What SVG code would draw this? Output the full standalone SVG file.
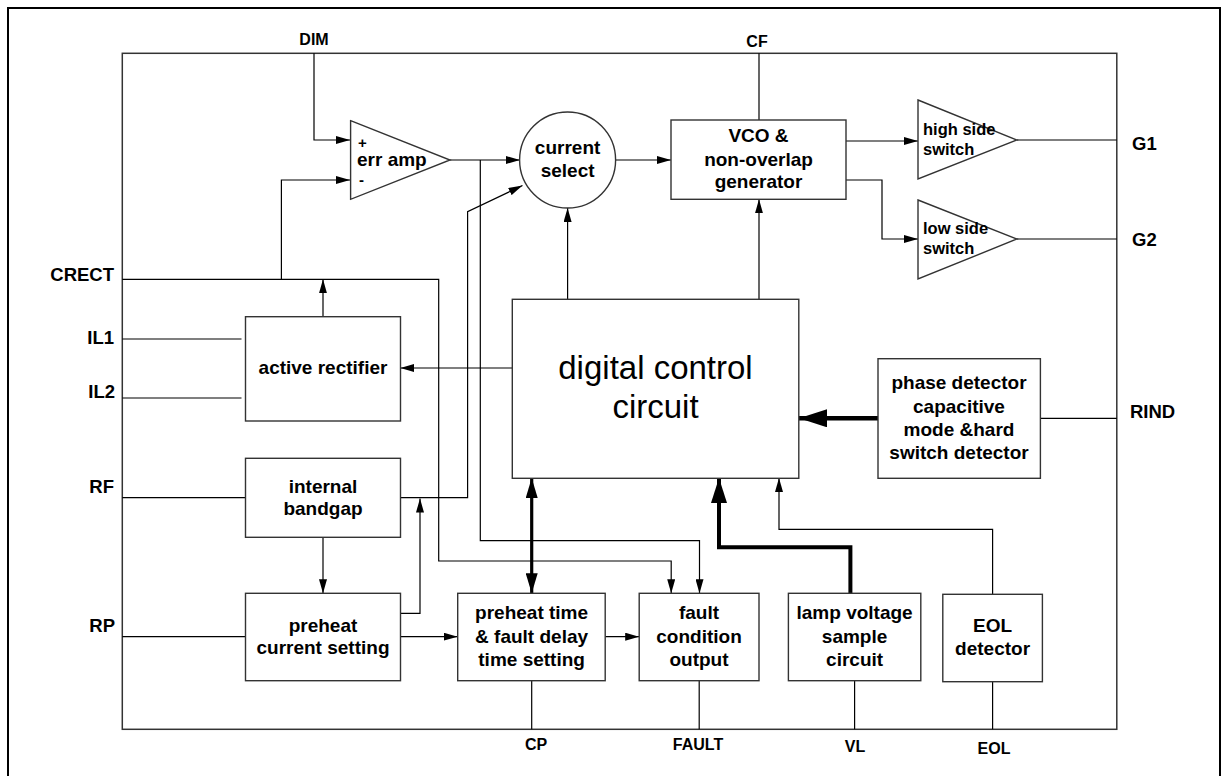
<svg xmlns="http://www.w3.org/2000/svg" width="1227" height="776" viewBox="0 0 1227 776">
<style>
.bx{fill:#fff;stroke:#333;stroke-width:1.4}
.ln{fill:none;stroke:#000;stroke-width:1.2}
.t{font-family:"Liberation Sans",Arial,sans-serif;font-weight:bold;font-size:19px;fill:#000;text-anchor:middle}
.l{font-family:"Liberation Sans",Arial,sans-serif;font-weight:bold;font-size:19px;fill:#000;text-anchor:start}
.pm{font-family:"Liberation Sans",Arial,sans-serif;font-weight:bold;font-size:15px;fill:#000;text-anchor:start}
.p{font-family:"Liberation Sans",Arial,sans-serif;font-weight:bold;font-size:18.5px;fill:#000}
.pe{font-family:"Liberation Sans",Arial,sans-serif;font-weight:bold;font-size:18.5px;fill:#000;text-anchor:end}
.q{font-family:"Liberation Sans",Arial,sans-serif;font-weight:bold;font-size:16px;fill:#000;text-anchor:middle}
.s{font-family:"Liberation Sans",Arial,sans-serif;font-weight:bold;font-size:16.5px;fill:#000}
.big{font-family:"Liberation Sans",Arial,sans-serif;font-size:33px;fill:#000;text-anchor:middle}
</style>
<defs>
<marker id="a" markerUnits="userSpaceOnUse" viewBox="0 0 14 8" markerWidth="14" markerHeight="8" refX="14" refY="4" orient="auto"><path d="M0,0 L14,4 L0,8 Z" fill="#000"/></marker>
<marker id="a2" markerUnits="userSpaceOnUse" viewBox="0 0 20 12" markerWidth="20" markerHeight="12" refX="20" refY="6" orient="auto-start-reverse"><path d="M0,0 L20,6 L0,12 Z" fill="#000"/></marker>
<marker id="a3" markerUnits="userSpaceOnUse" viewBox="0 0 25 16" markerWidth="25" markerHeight="16" refX="25" refY="8" orient="auto"><path d="M0,0 L25,8 L0,16 Z" fill="#000"/></marker>
<marker id="a4" markerUnits="userSpaceOnUse" viewBox="0 0 28 18" markerWidth="28" markerHeight="18" refX="28" refY="9" orient="auto"><path d="M0,0 L28,9 L0,18 Z" fill="#000"/></marker>
</defs>

<path d="M8,776 V8 H1220 V776" fill="none" stroke="#000" stroke-width="2"/>
<rect x="122.3" y="53.3" width="994.5" height="676" fill="none" stroke="#333" stroke-width="1.5"/>

<g id="connectors">
<path class="ln" d="M314,53.3 V140 H350" marker-end="url(#a)"/>
<path class="ln" d="M122.3,279.3 H438.7 V561 H671.2 V593.3" marker-end="url(#a)"/>
<path class="ln" d="M281.4,279.3 V180 H350" marker-end="url(#a)"/>
<path class="ln" d="M323,316.7 V279.3" marker-end="url(#a)"/>
<path class="ln" d="M450,160 H520" marker-end="url(#a)"/>
<path class="ln" d="M480.3,160 V540.7 H699.5 V593.3" marker-end="url(#a)"/>
<path class="ln" d="M400.4,497.7 H467.6 V211.7 L522.5,185.5" marker-end="url(#a)"/>
<path class="ln" d="M567.6,299.3 V208" marker-end="url(#a)"/>
<path class="ln" d="M615.6,160 H671" marker-end="url(#a)"/>
<path class="ln" d="M759,53.3 V120"/>
<path class="ln" d="M846,141 H918" marker-end="url(#a)"/>
<path class="ln" d="M846,180 H882 V239 H918" marker-end="url(#a)"/>
<path class="ln" d="M1017,140 H1116.8"/>
<path class="ln" d="M1017,239 H1116.8"/>
<path class="ln" d="M759,299.3 V199.3" marker-end="url(#a)"/>
<path class="ln" d="M512.3,368 H400.4" marker-end="url(#a)"/>
<path class="ln" d="M122.3,339 H241.5"/>
<path class="ln" d="M122.3,398 H241.5"/>
<path class="ln" d="M122.3,497.7 H245.5"/>
<path class="ln" d="M323,537.7 V593.3" marker-end="url(#a)"/>
<path class="ln" d="M388.5,613.3 H420 V498.5" marker-end="url(#a)"/>
<path class="ln" d="M122.3,636.7 H245.5"/>
<path class="ln" d="M400.4,636.7 H457.7" marker-end="url(#a)"/>
<path class="ln" d="M605.2,636.7 H639.2" marker-end="url(#a)"/>
<path fill="none" stroke="#000" stroke-width="3.2" d="M531.7,478 V593.3" marker-start="url(#a2)" marker-end="url(#a2)"/>
<path class="ln" d="M531.7,680.7 V729.3"/>
<path class="ln" d="M699.2,680.7 V729.3"/>
<path class="ln" d="M854.6,680.7 V729.3"/>
<path class="ln" d="M992.6,681.7 V729.3"/>
<path fill="none" stroke="#000" stroke-width="4" d="M850.4,593.3 V547.3 H719 V478" marker-end="url(#a3)"/>
<path class="ln" d="M992.6,594.3 V529.3 H779 V478" marker-end="url(#a)"/>
<path fill="none" stroke="#000" stroke-width="4.5" d="M878,418.3 H799" marker-end="url(#a4)"/>
<path class="ln" d="M1040.4,418.3 H1116.8"/>
</g>

<g id="pins">
<text class="q" x="314" y="45">DIM</text>
<text class="q" x="757" y="46.5">CF</text>
<text class="pe" x="114" y="280.6">CRECT</text>
<text class="pe" x="114" y="344.3">IL1</text>
<text class="pe" x="115" y="397.6">IL2</text>
<text class="pe" x="114" y="493.3">RF</text>
<text class="pe" x="115" y="632.3">RP</text>
<text class="p" x="1132" y="149.6">G1</text>
<text class="p" x="1132" y="245.6">G2</text>
<text class="p" x="1130" y="418.3">RIND</text>
<text class="q" x="536" y="750">CP</text>
<text class="q" x="698" y="750">FAULT</text>
<text class="q" x="855" y="751.5">VL</text>
<text class="q" x="994" y="754">EOL</text>
</g>

<g id="err-amp">
<path class="bx" d="M350.6,120.7 L450,160 L350.6,199.3 Z"/>
<text class="pm" x="358" y="147.5">+</text>
<text class="l" x="357" y="166">err amp</text>
<text class="pm" x="359" y="185">-</text>
</g>

<g id="current-select">
<circle class="bx" cx="567.6" cy="160" r="48"/>
<text class="t" x="567.6" y="154">current</text>
<text class="t" x="567.6" y="176.7">select</text>
</g>

<g id="vco">
<rect class="bx" x="671" y="120" width="175" height="79.3"/>
<text class="t" x="758.5" y="141.7">VCO &amp;</text>
<text class="t" x="758.5" y="165.7">non-overlap</text>
<text class="t" x="758.5" y="188.3">generator</text>
</g>

<g id="high-side">
<path class="bx" d="M918,100 L1017,140 L918,179 Z"/>
<text class="s" x="923" y="135">high side</text>
<text class="s" x="923" y="155">switch</text>
</g>

<g id="low-side">
<path class="bx" d="M918,200 L1017,239 L918,279 Z"/>
<text class="s" x="923" y="234">low side</text>
<text class="s" x="923" y="254">switch</text>
</g>

<g id="active-rectifier">
<rect class="bx" x="245.5" y="316.7" width="155" height="104.3"/>
<text class="t" x="323" y="374.3">active rectifier</text>
</g>

<g id="internal-bandgap">
<rect class="bx" x="245.5" y="458.3" width="155" height="79"/>
<text class="t" x="323" y="493.3">internal</text>
<text class="t" x="323" y="515">bandgap</text>
</g>

<g id="preheat-current">
<rect class="bx" x="245.5" y="593.3" width="155" height="87.4"/>
<text class="t" x="323" y="631.7">preheat</text>
<text class="t" x="323" y="654">current setting</text>
</g>

<g id="digital-control">
<rect class="bx" x="512.3" y="299.3" width="286.5" height="179"/>
<text class="big" x="655.5" y="379">digital control</text>
<text class="big" x="655.5" y="418.3">circuit</text>
</g>

<g id="phase-detector">
<rect class="bx" x="878" y="358.7" width="162.4" height="119.6"/>
<text class="t" x="959" y="389.3">phase detector</text>
<text class="t" x="959" y="412.7">capacitive</text>
<text class="t" x="959" y="435.7">mode &amp;hard</text>
<text class="t" x="959" y="459">switch detector</text>
</g>

<g id="preheat-time">
<rect class="bx" x="457.7" y="593.3" width="147.5" height="87.4"/>
<text class="t" x="531.6" y="619.3">preheat time</text>
<text class="t" x="531.6" y="643.3">&amp; fault delay</text>
<text class="t" x="531.6" y="666">time setting</text>
</g>

<g id="fault-output">
<rect class="bx" x="639.2" y="593.3" width="119.8" height="87.4"/>
<text class="t" x="699" y="619.3">fault</text>
<text class="t" x="699" y="643.3">condition</text>
<text class="t" x="699" y="665.5">output</text>
</g>

<g id="lamp-voltage">
<rect class="bx" x="788.4" y="593.3" width="132.4" height="87.4"/>
<text class="t" x="854.6" y="619.3">lamp voltage</text>
<text class="t" x="854.6" y="643.3">sample</text>
<text class="t" x="854.6" y="666">circuit</text>
</g>

<g id="eol-detector">
<rect class="bx" x="942.8" y="594.3" width="99.6" height="87.4"/>
<text class="t" x="992.6" y="631.7">EOL</text>
<text class="t" x="992.6" y="655">detector</text>
</g>
</svg>
